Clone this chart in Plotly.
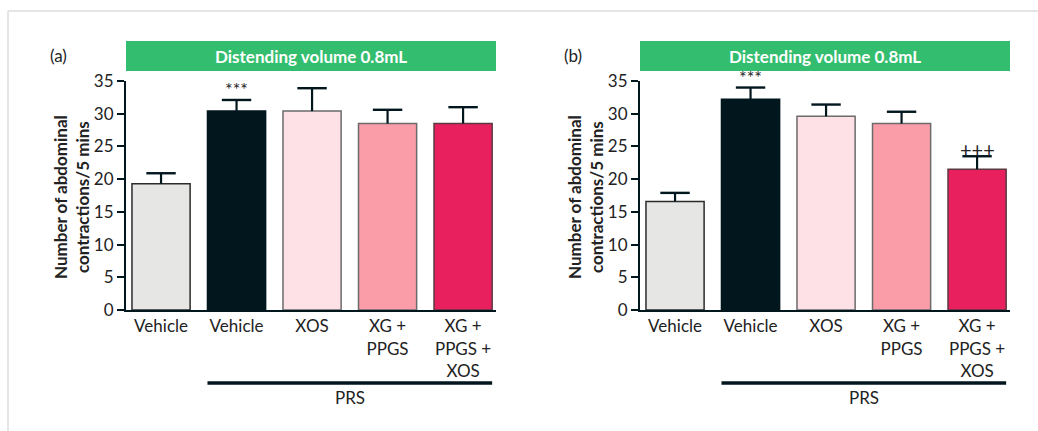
import plotly.graph_objects as go

W, H = 1038, 431

categories = ["Vehicle", "Vehicle", "XOS", "XG +<br>PPGS", "XG +<br>PPGS +<br>XOS"]
colors = ["#e6e6e4", "#02161e", "#fde1e6", "#fb9ca9", "#e8205d"]
outline = ["#2b2b2b", "#02161e", "#6b6b6b", "#6b6b6b", "#5a3a40"]

means_a = [19.3, 30.4, 30.4, 28.5, 28.5]
sem_a = [1.6, 1.7, 3.5, 2.1, 2.5]
means_b = [16.6, 32.2, 29.6, 28.5, 21.5]
sem_b = [1.3, 1.8, 1.8, 1.8, 2.0]

yticks = [0, 5, 10, 15, 20, 25, 30, 35]
title_text = "Distending volume 0.8mL"
ytitle = "Number of abdominal<br>contractions/5 mins"

FONT = "Lato, 'Source Sans Pro', sans-serif"
DARK = "#02161e"
GREEN = "#33bd6e"
TXT = "#222222"

def px_x(p):
    return p / W

def px_y(p):
    return 1 - p / H

panels = [
    dict(means=means_a, sem=sem_a, x0=126, x1=496, label="(a)", lx=58, xa="x", ya="y",
         sig=[(1, "***", -2, 18)]),
    dict(means=means_b, sem=sem_b, x0=640, x1=1010, label="(b)", lx=573, xa="x2", ya="y2",
         sig=[(1, "***", -2, 18), (4, "+++", -7, 20)]),
]

fig = go.Figure()
shapes = []
annotations = []
xs = list(range(len(categories)))

for i, p in enumerate(panels):
    fig.add_trace(go.Bar(
        x=xs, y=p["means"], width=0.77,
        marker=dict(color=colors, line=dict(color=outline, width=1.5)),
        error_y=dict(type="data", array=p["sem"], arrayminus=[0] * 5, symmetric=False,
                     width=0, thickness=2.2, color=DARK),
        xaxis=p["xa"], yaxis=p["ya"], showlegend=False, hoverinfo="skip",
    ))
    tops = [m + s for m, s in zip(p["means"], p["sem"])]
    fig.add_trace(go.Scatter(
        x=xs, y=tops, mode="markers",
        marker=dict(symbol="line-ew", size=21, line=dict(color=DARK, width=2.4)),
        xaxis=p["xa"], yaxis=p["ya"], showlegend=False, hoverinfo="skip", cliponaxis=False,
    ))
    xk = "xaxis" if i == 0 else "xaxis2"
    yk = "yaxis" if i == 0 else "yaxis2"
    fig.layout[xk] = dict(
        domain=[px_x(p["x0"]), px_x(p["x1"])], range=[-0.464, 4.436],
        tickvals=xs, ticktext=categories, ticks="", showgrid=False, zeroline=False,
        showline=True, linecolor=DARK, linewidth=2, automargin=False,
        tickfont=dict(family=FONT, size=17, color=TXT),
        anchor=p["ya"], fixedrange=True,
    )
    fig.layout[yk] = dict(
        domain=[px_y(310), px_y(81)], range=[0, 35],
        tickvals=yticks, ticks="outside", ticklen=7, tickwidth=2, tickcolor=DARK,
        showgrid=False, zeroline=False, showline=True, linecolor=DARK, linewidth=2,
        automargin=False,
        tickfont=dict(family=FONT, size=17, color=TXT),
        anchor=p["xa"], fixedrange=True,
    )
    shapes.append(dict(type="rect", xref="paper", yref="paper",
                       x0=px_x(p["x0"]), x1=px_x(p["x1"]), y0=px_y(71), y1=px_y(41),
                       fillcolor=GREEN, line=dict(width=0), layer="below"))
    annotations.append(dict(xref="paper", yref="paper", x=(px_x(p["x0"]) + px_x(p["x1"])) / 2,
                            y=px_y(56), text="<b>" + title_text + "</b>", showarrow=False,
                            font=dict(family=FONT, size=17, color="white"),
                            xanchor="center", yanchor="middle"))
    annotations.append(dict(xref="paper", yref="paper", x=px_x(p["lx"]), y=px_y(55),
                            text=p["label"], showarrow=False,
                            font=dict(family=FONT, size=17, color=TXT),
                            xanchor="center", yanchor="middle"))
    annotations.append(dict(xref="paper", yref="paper", x=px_x(p["x0"] - 55), y=px_y(197),
                            text="<b>" + ytitle + "</b>", showarrow=False, textangle=-90,
                            font=dict(family=FONT, size=17, color=TXT),
                            xanchor="center", yanchor="middle"))
    xd = p["xa"]
    shapes.append(dict(type="line", xref=xd, yref="paper", x0=1 - 0.385, x1=4 + 0.385,
                       y0=px_y(383), y1=px_y(383), line=dict(color=DARK, width=3.5)))
    annotations.append(dict(xref=xd, yref="paper", x=2.5, y=px_y(397), text="PRS",
                            showarrow=False, font=dict(family=FONT, size=17, color=TXT),
                            xanchor="center", yanchor="middle"))
    for (k, txt, shift, fs) in p["sig"]:
        annotations.append(dict(xref=xd, yref=p["ya"], x=k, y=tops[k], text=txt, showarrow=False,
                                font=dict(family=FONT, size=fs, color=TXT),
                                xanchor="center", yanchor="bottom", yshift=shift))

shapes.append(dict(type="line", xref="paper", yref="paper", x0=px_x(8), x1=1.0,
                   y0=px_y(11), y1=px_y(11), line=dict(color="#dddddd", width=1.5)))
shapes.append(dict(type="line", xref="paper", yref="paper", x0=px_x(8), x1=px_x(8),
                   y0=0, y1=px_y(11), line=dict(color="#dddddd", width=1.5)))

fig.update_layout(
    width=W, height=H, margin=dict(l=0, r=0, t=0, b=0, pad=0, autoexpand=False),
    paper_bgcolor="white", plot_bgcolor="white",
    shapes=shapes, annotations=annotations, bargap=0.2,
    font=dict(family=FONT),
)

fig.write_html(
    "out.html",
    config={"responsive": False, "displayModeBar": False},
    post_script="document.body.style.margin='0';document.body.style.padding='0';"
                "document.body.style.overflow='hidden';",
)
